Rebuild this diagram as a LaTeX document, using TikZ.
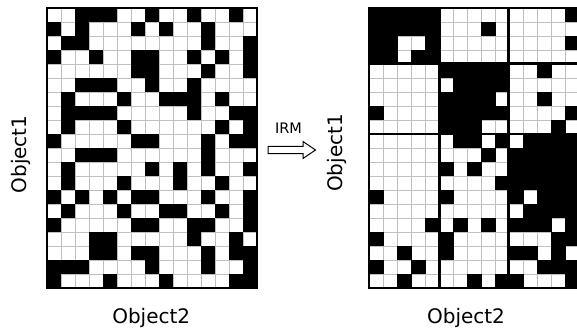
\documentclass[tikz,border=0pt]{standalone}
\usepackage{fontspec}
\setmainfont{DejaVu Sans}
\begin{document}
\begin{tikzpicture}[x=1pt,y=-1pt,
  gridline/.style={draw=black!25, line width=0.6pt},
  cellfill/.style={fill=black},
  frame/.style={draw=black, line width=2pt},
  sep/.style={draw=black, line width=2.6pt},
  lbl/.style={font=\fontsize{20}{24}\selectfont, inner sep=0pt},
  arrowshape/.style={draw=black, line width=1pt, line join=miter, fill=white}]
\useasboundingbox (0,0) rectangle (577,331);
\clip (0,0) rectangle (577,331);
\fill[white] (0,0) rectangle (577,331);
% ---------- left grid ----------
\def\lx{47}\def\ly{8}
\foreach \i in {1,...,14} \draw[gridline] ({\lx+\i*14},\ly) -- ({\lx+\i*14},{\ly+280});
\foreach \j in {1,...,19} \draw[gridline] (\lx,{\ly+\j*14}) -- ({\lx+210},{\ly+\j*14});
\foreach \r/\cols in {0/{2,3,4,7,10,13},1/{0,2,6,8,11},2/{1,2,11,14},3/{0,3,6,7,10,12,14},
  4/{6,7,11,14},5/{2,3,4,7,10},6/{1,5,8,9,10,12},7/{1,2,3,4,10,13,14},8/{1,5,12,14},
  9/{0,6,7,11,13,14},10/{2,3,4,11},11/{1,7,9,11,14},12/{1,5,9,12},13/{0,2,4,6,7,11,14},
  14/{1,5,8,9,12,14},15/{0,6,7,10,11,14},16/{3,4,10,13},17/{3,4,6,7,11,13,14},
  18/{0,1,2,7,11,14},19/{0,4,8,13,14}}{
  \foreach \c in \cols {
    \fill[cellfill] ({\lx+\c*14-0.25},{\ly+\r*14-0.25}) rectangle ++(14.5,14.5);
  }
}
\draw[frame] (\lx,\ly) rectangle ({\lx+210},{\ly+280});
% ---------- right grid ----------
\def\rx{369.3}\def\ry{8}
\foreach \i in {1,...,14} \draw[gridline] ({\rx+\i*14},\ry) -- ({\rx+\i*14},{\ry+280});
\foreach \j in {1,...,19} \draw[gridline] (\rx,{\ry+\j*14}) -- ({\rx+210},{\ry+\j*14});
\foreach \r/\cols in {0/{0,1,2,3,4,14},1/{0,1,2,3,4,8},2/{0,1,4,14},3/{0,1,3,4},
  4/{5,6,7,8,9,12},5/{6,7,8,9},6/{5,6,7,8,12},7/{0,5,6,7,8,9,14},8/{5,6,7,13},
  9/{6,7,9,11,12,13,14},10/{8,10,11,12,13,14},11/{5,7,10,11,12,13,14},12/{9,10,11,12,13,14},
  13/{0,5,10,12,13,14},14/{11,12,13,14},15/{4,6,8,10,11,12,14},16/{0,5,13,14},
  17/{2,5,10,11,13},18/{0,3,12,13,14},19/{2,7,9,10,14}}{
  \foreach \c in \cols {
    \fill[cellfill] ({\rx+\c*14-0.25},{\ry+\r*14-0.25}) rectangle ++(14.5,14.5);
  }
}
\draw[sep] ({\rx+70},\ry) -- ({\rx+70},{\ry+280});
\draw[sep] ({\rx+139},\ry) -- ({\rx+139},{\ry+280});
\draw[sep] (\rx,{\ry+55.5}) -- ({\rx+210},{\ry+55.5});
\draw[sep] (\rx,{\ry+126}) -- ({\rx+210},{\ry+126});
\draw[frame] (\rx,\ry) rectangle ({\rx+210},{\ry+280});
% ---------- labels ----------
\node[lbl, anchor=base] (xlabL) at (151.2,323.3) {Object2};
\node[lbl, anchor=base] (xlabR) at (466,323.3) {Object2};
\node[lbl, rotate=90, anchor=base] (ylabL) at (26,154.5) {Object1};
\node[lbl, rotate=90, anchor=base] (ylabR) at (342.5,153) {Object1};
\node[font=\fontsize{14.5}{17}\selectfont, inner sep=0pt] (irm) at (288.5,128) {IRM};
% ---------- arrow ----------
\draw[arrowshape] (268,146.5) -- (303,146.5) -- (303,141.5) -- (315.5,150)
  -- (303,158.5) -- (303,153.5) -- (268,153.5) -- cycle;
\end{tikzpicture}
\end{document}
